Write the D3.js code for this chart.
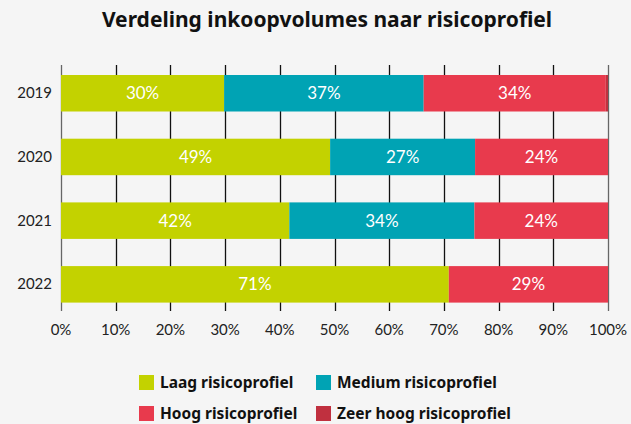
<!DOCTYPE html>
<html>
<head>
<meta charset="utf-8">
<script src="https://cdn.jsdelivr.net/npm/d3@7"></script>
<style>
  body { margin: 0; background: #f5f5f5; }
  svg { display: block; font-family: Lato, "Noto Sans", sans-serif; }
  .bold { font-family: "Noto Sans", sans-serif; }
</style>
</head>
<body>
<svg id="chart" width="631" height="424"></svg>
<script>
// data (percent of purchase volume)
var years = ["2019", "2020", "2021", "2022"];
var laag = [30.0, 49.2, 41.7, 70.9];
var medium = [36.7, 26.5, 33.8, 0];
var hoog = [33.5, 24.3, 24.4, 29.1];
var zeerHoog = [0.4, 0, 0, 0];
var seriesNames = ["Laag risicoprofiel", "Medium risicoprofiel", "Hoog risicoprofiel", "Zeer hoog risicoprofiel"];
var seriesColors = ["#c3d200", "#00a3b4", "#e83a4d", "#c0303f"];
var xTicks = [0, 10, 20, 30, 40, 50, 60, 70, 80, 90, 100];

var svg = d3.select("#chart");
var W = 631, H = 424;
var margin = {left: 61, right: 23, top: 65, bottom: 113};

var rows = years.map(function(y, i){
    return {year: y, s0: laag[i], s1: medium[i], s2: hoog[i], s3: zeerHoog[i]};
});
var keys = ["s0", "s1", "s2", "s3"];
var stacked = d3.stack().keys(keys).offset(d3.stackOffsetExpand)(rows);

var x = d3.scaleLinear().domain([0, 1]).range([margin.left, W - margin.right]);
var y = d3.scaleBand().domain(years).range([75, 302.6]).paddingInner(0.427).paddingOuter(0);

svg.append("rect").attr("width", W).attr("height", H).attr("fill", "#f5f5f5");

svg.append("text")
    .attr("class", "bold")
    .attr("x", 327).attr("y", 27)
    .attr("text-anchor", "middle")
    .attr("font-size", 21).attr("font-weight", 700)
    .attr("fill", "#111")
    .text("Verdeling inkoopvolumes naar risicoprofiel");

// grid lines
svg.append("g").selectAll("line")
    .data(xTicks)
    .enter().append("line")
    .attr("x1", function(d){return Math.round(x(d / 100)) + 0.5})
    .attr("x2", function(d){return Math.round(x(d / 100)) + 0.5})
    .attr("y1", margin.top).attr("y2", 311)
    .attr("stroke", function(d){return (d === 0 || d === 100) ? "#666" : "#111"})
    .attr("stroke-width", 1.3);

// bars
var layers = svg.append("g").selectAll("g")
    .data(stacked)
    .enter().append("g")
    .attr("fill", function(d, i){return seriesColors[i]});

layers.selectAll("rect")
    .data(function(d){return d})
    .enter().append("rect")
    .attr("x", function(d){return x(d[0])})
    .attr("y", function(d){return y(d.data.year)})
    .attr("width", function(d){return Math.max(0, x(d[1]) - x(d[0]))})
    .attr("height", y.bandwidth());

// value labels
stacked.forEach(function(layer, li){
    var raw = [laag, medium, hoog, zeerHoog][li];
    svg.append("g").selectAll("text")
        .data(layer.filter(function(d, i){return raw[i] >= 5}))
        .enter().append("text")
        .attr("x", function(d){return (x(d[0]) + x(d[1])) / 2})
        .attr("y", function(d){return y(d.data.year) + y.bandwidth() / 2 + 6})
        .attr("text-anchor", "middle")
        .attr("font-size", 17)
        .attr("fill", "#fff")
        .text(function(d){return Math.round(raw[years.indexOf(d.data.year)]) + "%"});
});

// year labels
svg.append("g").selectAll("text")
    .data(years)
    .enter().append("text")
    .attr("x", 52)
    .attr("y", function(d){return y(d) + y.bandwidth() / 2 + 5})
    .attr("text-anchor", "end")
    .attr("font-size", 15)
    .attr("fill", "#222")
    .text(function(d){return d});

// x tick labels
svg.append("g").selectAll("text")
    .data(xTicks)
    .enter().append("text")
    .attr("x", function(d){return x(d / 100)})
    .attr("y", 335)
    .attr("text-anchor", "middle")
    .attr("font-size", 15)
    .attr("fill", "#222")
    .text(function(d){return d + "%"});

// legend
var legendPos = [[139, 375], [316, 375], [139, 406], [316, 406]];
var legend = svg.append("g").selectAll("g")
    .data(seriesNames)
    .enter().append("g")
    .attr("transform", function(d, i){return "translate(" + legendPos[i][0] + "," + legendPos[i][1] + ")"});
legend.append("rect")
    .attr("width", 15).attr("height", 15)
    .attr("fill", function(d, i){return seriesColors[i]});
legend.append("text")
    .attr("class", "bold")
    .attr("x", 21).attr("y", 13)
    .attr("font-size", 15.5).attr("font-weight", 700)
    .attr("fill", "#111")
    .text(function(d){return d});
</script>
</body>
</html>
